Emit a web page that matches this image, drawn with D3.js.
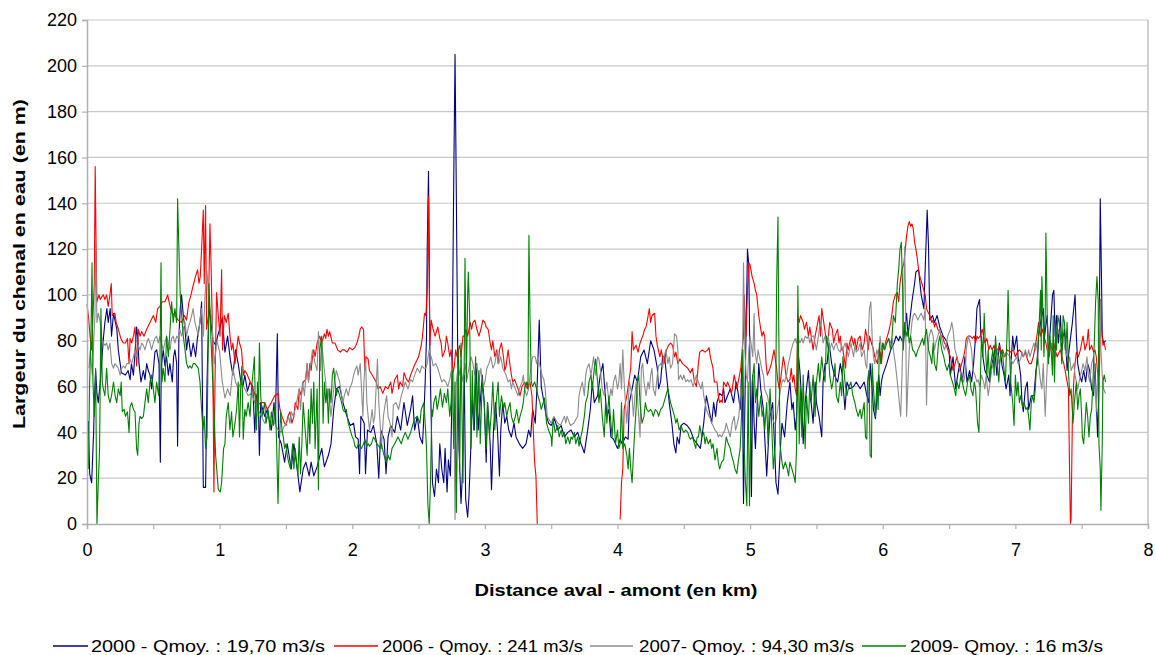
<!DOCTYPE html>
<html><head><meta charset="utf-8">
<script src="https://cdn.jsdelivr.net/npm/d3@7"></script>
<style>html,body{margin:0;padding:0;background:#fff;}svg{display:block;}text{font-family:"Liberation Sans",Arial,sans-serif;fill:#000;}</style>
</head><body><svg id="c" width="1156" height="655"></svg>
<script>
const yTicks=[0,20,40,60,80,100,120,140,160,180,200,220];
const xTicks=[0,0.5,1,1.5,2,2.5,3,3.5,4,4.5,5,5.5,6,6.5,7,7.5,8];
const xLabels=["0","","1","","2","","3","","4","","5","","6","","7","","8"];
const seriesNames=["2000 - Qmoy. : 19,70 m3/s","2006 - Qmoy. : 241 m3/s","2007- Qmoy. : 94,30 m3/s","2009- Qmoy. : 16 m3/s"];
const seriesColors=["#000080","#ff0000","#8c8c8c","#008000"];
const xTitle="Distance aval - amont (en km)";
const yTitle="Largeur du chenal en eau (en m)";

const s2000=[[0.01,45],[0.02,22],[0.035,18],[0.05,40],[0.055,53],[0.065,67],[0.075,57],[0.085,53],[0.1,62],[0.11,70],[0.125,82],[0.135,88],[0.15,94],[0.16,88],[0.175,94],[0.185,82],[0.2,92],[0.225,85],[0.236,76],[0.25,70],[0.26,66],[0.29,65],[0.31,67],[0.325,63],[0.335,70],[0.35,65],[0.36,73],[0.374,86],[0.382,82],[0.392,70],[0.407,62],[0.425,67],[0.437,63],[0.45,70],[0.462,67],[0.475,65],[0.487,59],[0.5,67],[0.512,75],[0.525,76],[0.543,70],[0.553,27],[0.56,69],[0.575,76],[0.588,69],[0.6,73],[0.613,65],[0.625,70],[0.643,62],[0.653,73],[0.663,76],[0.676,70],[0.683,34],[0.693,82],[0.703,94],[0.713,100],[0.726,91],[0.739,85],[0.751,76],[0.764,82],[0.784,73],[0.801,79],[0.819,73],[0.834,82],[0.852,88],[0.864,97],[0.877,16],[0.894,16],[0.905,62],[0.92,95],[0.935,88],[0.95,80],[0.97,78],[0.985,82],[1.0,85],[1.02,90],[1.04,75],[1.06,82],[1.08,72],[1.1,65],[1.12,76],[1.14,70],[1.16,62],[1.175,60],[1.19,65],[1.21,58],[1.23,62],[1.25,60],[1.265,40],[1.275,55],[1.29,58],[1.3,30],[1.31,53],[1.34,47],[1.36,50],[1.39,41],[1.41,53],[1.42,44],[1.435,83],[1.445,38],[1.465,35],[1.49,27],[1.51,35],[1.54,24],[1.56,35],[1.585,24],[1.605,14],[1.63,24],[1.65,27],[1.675,21],[1.69,27],[1.71,21],[1.735,25],[1.77,33],[1.79,25],[1.82,30],[1.84,35],[1.86,50],[1.88,59],[1.905,60],[1.93,53],[1.96,47],[1.985,43],[2.01,44],[2.025,38],[2.045,37],[2.055,22],[2.065,47],[2.09,44],[2.1,22],[2.115,41],[2.14,40],[2.16,43],[2.185,35],[2.2,20],[2.215,41],[2.24,37],[2.255,22],[2.27,38],[2.29,43],[2.32,40],[2.34,47],[2.365,41],[2.39,53],[2.415,43],[2.44,50],[2.455,56],[2.47,41],[2.49,47],[2.51,38],[2.53,35],[2.54,47],[2.55,62],[2.56,82],[2.565,120],[2.575,154],[2.58,120],[2.585,76],[2.595,47],[2.605,18],[2.62,12],[2.635,24],[2.65,18],[2.66,35],[2.675,24],[2.69,18],[2.7,33],[2.715,14],[2.725,28],[2.74,21],[2.75,50],[2.765,149],[2.775,205],[2.785,142],[2.795,76],[2.805,33],[2.82,9],[2.83,21],[2.845,65],[2.855,11],[2.87,3],[2.88,12],[2.895,35],[2.905,54],[2.92,41],[2.935,70],[2.95,41],[2.965,53],[2.98,65],[2.995,53],[3.01,27],[3.02,53],[3.04,35],[3.05,15],[3.065,41],[3.08,53],[3.095,41],[3.11,21],[3.12,41],[3.135,53],[3.15,44],[3.165,47],[3.18,41],[3.2,38],[3.22,44],[3.235,38],[3.26,35],[3.285,33],[3.31,35],[3.33,41],[3.345,38],[3.36,50],[3.38,44],[3.395,62],[3.41,89],[3.425,60],[3.44,55],[3.46,48],[3.48,44],[3.5,43],[3.525,46],[3.55,41],[3.575,43],[3.6,38],[3.625,40],[3.65,41],[3.675,38],[3.7,40],[3.725,35],[3.75,31],[3.76,35],[3.775,41],[3.795,50],[3.81,62],[3.825,53],[3.85,56],[3.87,65],[3.89,70],[3.9,62],[3.92,47],[3.935,50],[3.95,38],[3.97,37],[4.0,33],[4.02,37],[4.035,35],[4.06,38],[4.08,37],[4.09,53],[4.11,59],[4.13,65],[4.15,62],[4.175,73],[4.2,76],[4.225,70],[4.25,80],[4.275,76],[4.3,68],[4.31,59],[4.325,62],[4.34,73],[4.355,73],[4.375,62],[4.39,53],[4.41,44],[4.425,35],[4.44,31],[4.45,38],[4.465,35],[4.48,43],[4.5,44],[4.525,43],[4.55,41],[4.575,37],[4.6,35],[4.625,33],[4.65,44],[4.67,56],[4.69,50],[4.71,44],[4.725,53],[4.74,47],[4.75,53],[4.77,57],[4.79,56],[4.8,59],[4.81,53],[4.83,56],[4.85,59],[4.875,53],[4.895,62],[4.91,57],[4.925,50],[4.94,73],[4.95,9],[4.965,70],[4.98,120],[4.99,113],[5.0,62],[5.01,12],[5.02,65],[5.03,44],[5.04,33],[5.05,47],[5.065,70],[5.08,59],[5.1,50],[5.11,38],[5.125,21],[5.14,38],[5.15,47],[5.17,53],[5.185,33],[5.195,18],[5.21,13],[5.23,35],[5.24,44],[5.26,38],[5.28,53],[5.3,62],[5.315,50],[5.325,53],[5.34,41],[5.35,47],[5.365,73],[5.375,67],[5.39,53],[5.4,35],[5.415,53],[5.425,59],[5.44,67],[5.45,56],[5.46,53],[5.475,44],[5.49,62],[5.5,53],[5.52,47],[5.54,38],[5.55,62],[5.565,70],[5.58,70],[5.595,79],[5.615,70],[5.635,65],[5.66,62],[5.68,70],[5.695,65],[5.715,50],[5.73,62],[5.75,59],[5.78,60],[5.8,62],[5.83,59],[5.86,62],[5.88,56],[5.895,53],[5.905,70],[5.92,59],[5.93,50],[5.945,46],[5.96,59],[5.97,65],[5.98,56],[5.99,62],[6.0,65],[6.03,70],[6.06,76],[6.085,79],[6.1,82],[6.12,80],[6.13,82],[6.155,79],[6.18,92],[6.19,82],[6.22,97],[6.24,105],[6.25,110],[6.27,111],[6.29,100],[6.31,94],[6.325,120],[6.335,137],[6.345,121],[6.355,89],[6.375,91],[6.39,88],[6.41,91],[6.43,86],[6.455,82],[6.48,80],[6.5,76],[6.51,65],[6.53,73],[6.55,59],[6.565,65],[6.58,70],[6.6,62],[6.62,73],[6.635,62],[6.655,67],[6.67,62],[6.685,70],[6.7,82],[6.71,94],[6.73,98],[6.74,82],[6.755,73],[6.77,67],[6.785,65],[6.805,62],[6.825,70],[6.845,76],[6.86,65],[6.88,79],[6.9,69],[6.915,65],[6.93,59],[6.95,65],[6.96,56],[6.97,73],[6.98,82],[6.99,76],[7.01,82],[7.02,73],[7.04,65],[7.05,53],[7.06,49],[7.075,59],[7.09,62],[7.1,50],[7.12,56],[7.14,56],[7.155,67],[7.165,70],[7.175,82],[7.19,88],[7.2,91],[7.21,94],[7.22,82],[7.24,91],[7.25,76],[7.26,82],[7.28,100],[7.29,102],[7.3,82],[7.31,91],[7.325,79],[7.34,91],[7.35,76],[7.37,85],[7.385,73],[7.39,67],[7.405,76],[7.43,88],[7.45,100],[7.46,82],[7.47,70],[7.485,65],[7.5,62],[7.515,67],[7.53,62],[7.545,70],[7.56,67],[7.575,59],[7.59,56],[7.6,70],[7.62,38],[7.63,59],[7.64,142],[7.65,105],[7.655,82],[7.665,79],[7.68,80]];

const s2006=[[0.0,96],[0.012,90],[0.023,82],[0.035,76],[0.045,91],[0.055,105],[0.062,156],[0.068,124],[0.075,97],[0.09,100],[0.1,98],[0.11,99],[0.123,100],[0.135,98],[0.148,100],[0.16,95],[0.173,100],[0.183,105],[0.19,91],[0.21,92],[0.22,88],[0.236,85],[0.255,81],[0.274,79],[0.29,79],[0.305,81],[0.317,70],[0.325,81],[0.337,79],[0.35,82],[0.362,86],[0.374,69],[0.387,85],[0.4,82],[0.412,84],[0.43,82],[0.45,85],[0.475,88],[0.5,91],[0.518,88],[0.533,94],[0.55,95],[0.568,97],[0.588,97],[0.608,100],[0.626,95],[0.643,92],[0.663,91],[0.688,89],[0.713,88],[0.734,91],[0.75,89],[0.769,97],[0.784,100],[0.8,104],[0.818,108],[0.834,111],[0.844,105],[0.854,108],[0.864,120],[0.877,137],[0.884,105],[0.894,139],[0.902,85],[0.915,91],[0.927,131],[0.935,114],[0.947,82],[0.957,14],[0.965,62],[0.977,101],[0.99,91],[1.003,82],[1.015,111],[1.022,76],[1.035,91],[1.05,88],[1.065,92],[1.078,82],[1.09,76],[1.1,79],[1.116,70],[1.128,76],[1.14,82],[1.15,79],[1.165,76],[1.18,65],[1.19,67],[1.21,65],[1.23,62],[1.25,59],[1.27,56],[1.29,52],[1.31,53],[1.34,53],[1.36,50],[1.39,53],[1.415,56],[1.44,57],[1.455,50],[1.47,47],[1.49,44],[1.5,43],[1.515,47],[1.53,49],[1.545,44],[1.56,47],[1.57,53],[1.59,50],[1.6,59],[1.615,56],[1.63,62],[1.65,63],[1.66,70],[1.67,62],[1.68,70],[1.69,67],[1.7,73],[1.71,76],[1.72,73],[1.735,79],[1.755,82],[1.77,79],[1.79,83],[1.8,81],[1.81,85],[1.82,82],[1.83,84],[1.85,79],[1.87,79],[1.89,76],[1.91,75],[1.925,76],[1.94,76],[1.96,75],[1.98,77],[2.0,76],[2.02,77],[2.035,79],[2.05,82],[2.06,85],[2.07,86],[2.085,85],[2.095,67],[2.105,73],[2.12,72],[2.13,67],[2.15,65],[2.18,62],[2.195,59],[2.21,60],[2.23,57],[2.25,60],[2.27,59],[2.29,62],[2.3,57],[2.32,63],[2.34,65],[2.35,59],[2.36,62],[2.38,60],[2.39,66],[2.41,63],[2.425,62],[2.44,65],[2.46,68],[2.475,70],[2.5,73],[2.52,78],[2.53,82],[2.545,92],[2.555,91],[2.565,102],[2.57,118],[2.575,143],[2.585,78],[2.595,89],[2.61,85],[2.625,82],[2.645,86],[2.66,81],[2.67,79],[2.68,73],[2.7,76],[2.71,82],[2.72,79],[2.735,73],[2.745,76],[2.76,66],[2.77,69],[2.78,76],[2.79,73],[2.8,76],[2.81,78],[2.82,73],[2.835,82],[2.845,82],[2.855,85],[2.87,82],[2.88,85],[2.89,88],[2.9,85],[2.91,88],[2.925,89],[2.94,85],[2.955,82],[2.97,85],[2.985,89],[3.0,88],[3.01,86],[3.025,85],[3.04,79],[3.05,76],[3.06,80],[3.075,73],[3.09,76],[3.1,70],[3.11,76],[3.125,79],[3.14,73],[3.15,67],[3.16,69],[3.175,76],[3.19,69],[3.2,65],[3.21,62],[3.225,63],[3.25,59],[3.265,56],[3.28,60],[3.3,62],[3.32,59],[3.34,62],[3.355,56],[3.375,27],[3.385,21],[3.395,0],[3.7,null],[4.02,2],[4.03,18],[4.04,24],[4.05,50],[4.07,56],[4.085,62],[4.1,68],[4.11,84],[4.12,76],[4.14,78],[4.155,75],[4.17,79],[4.19,82],[4.205,85],[4.215,86],[4.225,89],[4.24,94],[4.25,88],[4.26,91],[4.28,92],[4.29,82],[4.3,78],[4.32,73],[4.33,76],[4.35,70],[4.37,76],[4.385,78],[4.4,79],[4.415,78],[4.43,73],[4.44,75],[4.455,70],[4.47,72],[4.49,70],[4.51,69],[4.53,68],[4.55,66],[4.565,68],[4.58,62],[4.595,60],[4.61,70],[4.62,75],[4.64,76],[4.66,75],[4.68,76],[4.69,77],[4.7,73],[4.72,68],[4.73,62],[4.75,62],[4.76,56],[4.77,53],[4.78,54],[4.79,53],[4.8,62],[4.82,60],[4.83,62],[4.85,59],[4.86,57],[4.88,65],[4.89,62],[4.9,59],[4.91,62],[4.93,68],[4.94,76],[4.95,82],[4.955,100],[4.96,94],[4.97,82],[4.98,102],[4.99,114],[5.0,113],[5.015,108],[5.03,105],[5.04,102],[5.05,100],[5.065,91],[5.08,85],[5.09,82],[5.1,84],[5.11,82],[5.12,70],[5.13,65],[5.15,68],[5.16,70],[5.17,73],[5.18,76],[5.2,68],[5.21,62],[5.22,59],[5.23,63],[5.25,73],[5.26,70],[5.27,65],[5.285,62],[5.3,63],[5.31,68],[5.32,62],[5.33,65],[5.34,59],[5.35,56],[5.36,91],[5.37,88],[5.38,91],[5.4,88],[5.41,85],[5.425,88],[5.44,82],[5.45,86],[5.46,82],[5.475,76],[5.49,82],[5.5,85],[5.52,91],[5.53,82],[5.54,94],[5.555,88],[5.57,82],[5.58,79],[5.59,82],[5.6,88],[5.62,85],[5.63,79],[5.64,82],[5.66,85],[5.67,79],[5.68,82],[5.69,76],[5.7,76],[5.72,68],[5.73,79],[5.74,76],[5.75,79],[5.765,82],[5.78,78],[5.79,81],[5.8,76],[5.815,81],[5.83,82],[5.845,76],[5.86,79],[5.87,85],[5.88,82],[5.89,76],[5.9,82],[5.915,79],[5.93,76],[5.94,73],[5.96,70],[5.97,76],[5.98,75],[5.99,70],[6.0,76],[6.015,78],[6.03,81],[6.045,84],[6.06,88],[6.07,92],[6.08,97],[6.095,100],[6.11,101],[6.12,97],[6.13,105],[6.145,111],[6.16,114],[6.17,120],[6.18,126],[6.19,130],[6.2,132],[6.21,130],[6.22,131],[6.23,129],[6.24,123],[6.25,120],[6.26,116],[6.27,111],[6.28,108],[6.295,105],[6.31,102],[6.32,100],[6.33,94],[6.345,92],[6.355,91],[6.37,88],[6.38,89],[6.39,86],[6.4,88],[6.415,85],[6.43,84],[6.44,82],[6.45,82],[6.465,79],[6.48,78],[6.49,76],[6.51,73],[6.52,70],[6.53,67],[6.545,70],[6.56,73],[6.57,70],[6.58,67],[6.595,70],[6.61,73],[6.62,76],[6.63,81],[6.645,82],[6.66,82],[6.675,81],[6.69,82],[6.7,79],[6.71,82],[6.72,81],[6.735,82],[6.75,85],[6.76,82],[6.77,79],[6.785,81],[6.8,76],[6.81,78],[6.825,76],[6.84,78],[6.85,75],[6.865,76],[6.88,78],[6.89,75],[6.905,76],[6.92,73],[6.94,76],[6.96,75],[6.985,76],[7.0,73],[7.015,75],[7.03,76],[7.045,75],[7.06,73],[7.075,75],[7.09,72],[7.105,70],[7.12,70],[7.135,73],[7.145,76],[7.16,81],[7.175,88],[7.19,82],[7.205,85],[7.215,82],[7.23,79],[7.24,76],[7.255,73],[7.265,78],[7.28,76],[7.29,79],[7.3,76],[7.315,73],[7.33,75],[7.34,76],[7.355,72],[7.365,70],[7.375,67],[7.39,62],[7.4,59],[7.41,18],[7.415,0],[7.42,2],[7.43,47],[7.44,62],[7.45,70],[7.46,75],[7.475,73],[7.49,76],[7.5,79],[7.51,82],[7.525,76],[7.54,79],[7.55,85],[7.56,76],[7.575,78],[7.59,75],[7.6,76],[7.61,73],[7.625,62],[7.635,70],[7.645,98],[7.65,85],[7.66,78],[7.67,79],[7.68,76]];

const s2007=[[0.015,68],[0.025,76],[0.04,65],[0.05,79],[0.06,91],[0.065,124],[0.075,88],[0.085,92],[0.1,88],[0.11,82],[0.123,79],[0.136,78],[0.148,79],[0.16,76],[0.173,79],[0.186,70],[0.2,68],[0.21,70],[0.224,69],[0.236,68],[0.25,65],[0.262,68],[0.274,69],[0.287,68],[0.3,70],[0.312,70],[0.324,72],[0.337,70],[0.35,73],[0.362,76],[0.374,73],[0.387,78],[0.4,76],[0.412,79],[0.425,78],[0.437,76],[0.45,79],[0.462,81],[0.475,79],[0.487,76],[0.5,79],[0.512,81],[0.525,82],[0.537,79],[0.55,82],[0.562,79],[0.575,76],[0.587,79],[0.6,82],[0.613,79],[0.626,76],[0.638,81],[0.65,82],[0.663,79],[0.676,82],[0.688,81],[0.7,85],[0.713,82],[0.726,85],[0.739,88],[0.751,82],[0.764,86],[0.776,88],[0.789,91],[0.8,94],[0.814,88],[0.827,85],[0.839,82],[0.85,88],[0.864,94],[0.877,82],[0.89,100],[0.905,110],[0.92,96],[0.94,90],[0.96,70],[0.98,80],[1.0,75],[1.02,62],[1.04,55],[1.06,59],[1.08,56],[1.1,68],[1.12,62],[1.14,59],[1.16,62],[1.19,59],[1.215,56],[1.24,57],[1.265,53],[1.29,50],[1.315,47],[1.34,44],[1.365,47],[1.39,44],[1.415,44],[1.44,41],[1.465,40],[1.49,43],[1.505,44],[1.52,47],[1.53,44],[1.54,49],[1.555,47],[1.57,50],[1.58,53],[1.6,59],[1.61,50],[1.625,62],[1.64,56],[1.65,65],[1.66,70],[1.67,62],[1.68,67],[1.7,76],[1.71,73],[1.72,70],[1.735,67],[1.745,84],[1.76,67],[1.77,79],[1.78,73],[1.79,67],[1.8,62],[1.81,53],[1.82,59],[1.83,53],[1.84,47],[1.855,56],[1.865,62],[1.88,67],[1.89,65],[1.905,62],[1.92,56],[1.93,53],[1.94,56],[1.955,59],[1.97,56],[1.98,59],[2.0,62],[2.01,65],[2.02,67],[2.035,69],[2.045,65],[2.06,70],[2.07,59],[2.08,47],[2.088,62],[2.1,73],[2.11,53],[2.12,47],[2.13,41],[2.15,50],[2.16,44],[2.17,47],[2.19,72],[2.2,53],[2.21,44],[2.22,33],[2.235,47],[2.25,53],[2.26,56],[2.27,47],[2.285,44],[2.3,38],[2.31,52],[2.33,53],[2.35,50],[2.37,56],[2.385,59],[2.4,62],[2.42,59],[2.44,63],[2.455,62],[2.47,65],[2.49,68],[2.51,66],[2.525,69],[2.54,68],[2.555,68],[2.565,70],[2.58,76],[2.6,72],[2.61,69],[2.63,70],[2.645,68],[2.66,65],[2.675,62],[2.69,63],[2.705,62],[2.72,60],[2.735,63],[2.75,68],[2.765,65],[2.775,2],[2.785,62],[2.8,70],[2.81,65],[2.82,68],[2.835,62],[2.85,70],[2.865,63],[2.88,68],[2.895,73],[2.91,70],[2.925,65],[2.94,70],[2.955,62],[2.97,68],[2.985,59],[3.0,62],[3.015,68],[3.03,70],[3.045,73],[3.06,68],[3.075,70],[3.09,75],[3.105,70],[3.12,73],[3.135,68],[3.16,65],[3.175,62],[3.19,63],[3.2,59],[3.21,62],[3.23,59],[3.25,56],[3.26,59],[3.28,62],[3.29,65],[3.3,59],[3.315,56],[3.33,59],[3.35,70],[3.36,73],[3.38,73],[3.39,70],[3.4,73],[3.415,69],[3.43,65],[3.445,63],[3.455,59],[3.47,47],[3.48,46],[3.5,44],[3.52,47],[3.55,44],[3.57,43],[3.6,47],[3.61,44],[3.62,47],[3.645,43],[3.67,44],[3.7,47],[3.71,56],[3.72,59],[3.735,62],[3.75,56],[3.76,65],[3.77,68],[3.785,70],[3.8,65],[3.81,69],[3.82,73],[3.835,65],[3.85,73],[3.86,72],[3.87,68],[3.885,59],[3.9,56],[3.91,59],[3.92,62],[3.935,53],[3.95,59],[3.96,56],[3.97,62],[3.985,65],[4.0,59],[4.01,62],[4.02,70],[4.03,59],[4.04,76],[4.05,62],[4.06,53],[4.07,44],[4.08,53],[4.09,62],[4.11,56],[4.12,47],[4.14,62],[4.15,56],[4.16,47],[4.17,38],[4.18,68],[4.19,70],[4.2,62],[4.215,56],[4.23,62],[4.24,59],[4.25,65],[4.26,68],[4.27,59],[4.285,56],[4.3,65],[4.31,69],[4.325,70],[4.34,68],[4.35,73],[4.365,76],[4.38,70],[4.39,73],[4.4,68],[4.415,70],[4.43,83],[4.445,82],[4.455,76],[4.46,63],[4.475,65],[4.49,63],[4.5,65],[4.515,62],[4.53,63],[4.54,62],[4.555,63],[4.57,60],[4.58,62],[4.595,65],[4.61,62],[4.63,59],[4.64,62],[4.65,56],[4.66,53],[4.67,50],[4.69,47],[4.7,46],[4.71,44],[4.72,43],[4.735,41],[4.75,40],[4.76,38],[4.77,39],[4.785,38],[4.8,40],[4.81,41],[4.82,44],[4.835,41],[4.85,38],[4.865,44],[4.88,47],[4.89,41],[4.9,43],[4.915,47],[4.93,59],[4.94,56],[4.95,114],[4.96,76],[4.97,65],[4.98,62],[4.99,76],[5.0,82],[5.02,73],[5.03,92],[5.035,76],[5.05,70],[5.06,76],[5.07,73],[5.08,70],[5.09,67],[5.1,65],[5.11,59],[5.13,56],[5.15,50],[5.165,47],[5.18,44],[5.19,44],[5.2,47],[5.215,53],[5.23,59],[5.24,62],[5.25,63],[5.26,62],[5.275,65],[5.285,69],[5.3,73],[5.31,76],[5.325,79],[5.34,81],[5.35,79],[5.36,82],[5.375,79],[5.39,81],[5.4,79],[5.415,82],[5.43,81],[5.44,82],[5.45,79],[5.465,82],[5.48,82],[5.49,79],[5.5,76],[5.515,82],[5.53,88],[5.54,85],[5.55,79],[5.565,82],[5.58,79],[5.59,82],[5.6,76],[5.615,79],[5.63,76],[5.64,78],[5.65,79],[5.665,76],[5.68,75],[5.69,78],[5.7,76],[5.715,79],[5.73,76],[5.74,73],[5.75,76],[5.76,79],[5.78,73],[5.79,78],[5.8,75],[5.815,76],[5.83,79],[5.84,73],[5.86,76],[5.87,70],[5.88,68],[5.89,82],[5.9,94],[5.91,97],[5.92,82],[5.93,73],[5.94,70],[5.955,76],[5.97,73],[5.98,82],[5.99,76],[6.0,79],[6.015,78],[6.03,79],[6.045,81],[6.06,79],[6.07,81],[6.08,76],[6.095,70],[6.11,62],[6.12,56],[6.13,50],[6.135,47],[6.145,65],[6.15,76],[6.16,105],[6.165,121],[6.17,105],[6.18,47],[6.19,62],[6.2,76],[6.21,82],[6.22,88],[6.23,91],[6.24,92],[6.25,91],[6.265,89],[6.28,91],[6.29,92],[6.31,89],[6.315,92],[6.32,94],[6.33,52],[6.34,76],[6.35,82],[6.365,85],[6.38,82],[6.39,76],[6.4,79],[6.415,82],[6.43,85],[6.44,82],[6.45,79],[6.465,76],[6.48,79],[6.49,82],[6.51,85],[6.52,88],[6.53,85],[6.545,76],[6.56,73],[6.57,70],[6.58,67],[6.59,65],[6.61,62],[6.62,65],[6.63,76],[6.645,82],[6.66,79],[6.67,76],[6.68,67],[6.695,65],[6.71,62],[6.72,63],[6.73,60],[6.745,65],[6.76,62],[6.77,59],[6.78,65],[6.795,56],[6.81,62],[6.82,67],[6.83,70],[6.845,73],[6.86,76],[6.87,73],[6.88,70],[6.895,75],[6.91,73],[6.93,75],[6.96,73],[6.98,70],[7.01,73],[7.02,70],[7.04,72],[7.05,75],[7.06,73],[7.075,76],[7.09,73],[7.1,76],[7.11,73],[7.125,76],[7.14,79],[7.15,76],[7.16,79],[7.175,70],[7.19,62],[7.2,59],[7.21,70],[7.225,47],[7.235,62],[7.245,76],[7.25,82],[7.26,76],[7.275,79],[7.29,76],[7.3,73],[7.31,82],[7.32,85],[7.34,82],[7.35,79],[7.36,82],[7.375,76],[7.39,73],[7.4,70],[7.41,73],[7.42,67],[7.44,70],[7.45,65],[7.46,62],[7.47,59],[7.49,65],[7.5,67],[7.51,70],[7.525,67],[7.54,73],[7.55,65],[7.56,62],[7.575,70],[7.59,73],[7.6,65],[7.61,49],[7.625,67],[7.64,98],[7.645,76],[7.655,65],[7.665,59],[7.68,57]];

const s2009=[[0.01,24],[0.02,62],[0.03,82],[0.038,114],[0.045,62],[0.055,47],[0.065,68],[0.075,0],[0.085,18],[0.095,33],[0.105,94],[0.115,62],[0.123,59],[0.135,56],[0.148,68],[0.16,56],[0.173,53],[0.185,56],[0.2,62],[0.212,56],[0.224,53],[0.236,59],[0.25,56],[0.258,62],[0.266,49],[0.28,50],[0.29,47],[0.305,49],[0.317,40],[0.324,51],[0.337,53],[0.35,50],[0.362,49],[0.374,33],[0.382,30],[0.392,44],[0.4,47],[0.412,46],[0.425,47],[0.437,53],[0.45,59],[0.462,53],[0.475,62],[0.487,65],[0.5,59],[0.512,53],[0.525,62],[0.54,56],[0.55,70],[0.558,114],[0.565,62],[0.575,68],[0.588,62],[0.6,82],[0.613,73],[0.626,85],[0.638,97],[0.65,88],[0.663,94],[0.676,88],[0.683,142],[0.693,120],[0.703,100],[0.714,91],[0.726,82],[0.739,76],[0.751,70],[0.764,68],[0.776,69],[0.789,68],[0.801,70],[0.814,70],[0.827,69],[0.839,68],[0.852,62],[0.864,50],[0.874,41],[0.884,47],[0.894,33],[0.905,38],[0.92,105],[0.935,80],[0.95,60],[0.97,30],[0.99,15],[1.005,14],[1.015,18],[1.03,33],[1.04,35],[1.05,47],[1.065,53],[1.078,41],[1.09,49],[1.1,38],[1.116,44],[1.128,50],[1.14,62],[1.15,38],[1.16,62],[1.168,69],[1.178,37],[1.19,50],[1.2,47],[1.215,53],[1.23,47],[1.24,59],[1.255,68],[1.262,73],[1.27,50],[1.278,41],[1.285,62],[1.292,47],[1.3,79],[1.31,56],[1.32,47],[1.34,53],[1.35,44],[1.365,50],[1.38,41],[1.39,49],[1.405,43],[1.42,53],[1.43,35],[1.44,9],[1.45,35],[1.46,49],[1.47,41],[1.48,38],[1.49,33],[1.5,35],[1.51,30],[1.52,27],[1.535,24],[1.55,35],[1.56,24],[1.57,33],[1.58,27],[1.59,21],[1.6,38],[1.61,22],[1.62,35],[1.63,53],[1.645,41],[1.66,30],[1.67,50],[1.68,35],[1.69,59],[1.7,44],[1.71,62],[1.72,33],[1.735,59],[1.745,15],[1.755,76],[1.77,82],[1.78,44],[1.79,62],[1.8,53],[1.81,59],[1.82,44],[1.83,59],[1.84,53],[1.85,65],[1.86,68],[1.87,62],[1.88,56],[1.89,59],[1.905,56],[1.92,53],[1.93,50],[1.94,49],[1.955,50],[1.97,44],[1.985,41],[2.0,38],[2.01,37],[2.02,34],[2.035,33],[2.045,35],[2.06,34],[2.07,33],[2.085,35],[2.095,37],[2.11,34],[2.12,35],[2.13,34],[2.145,35],[2.16,38],[2.17,37],[2.185,35],[2.2,34],[2.21,33],[2.22,35],[2.235,31],[2.25,28],[2.26,27],[2.27,30],[2.285,28],[2.3,33],[2.32,35],[2.345,38],[2.37,35],[2.385,38],[2.4,40],[2.42,37],[2.44,40],[2.455,43],[2.47,46],[2.49,47],[2.51,44],[2.52,50],[2.54,53],[2.55,44],[2.56,33],[2.57,9],[2.58,0],[2.59,18],[2.6,50],[2.605,47],[2.615,53],[2.63,56],[2.64,50],[2.65,53],[2.665,59],[2.68,51],[2.695,57],[2.71,53],[2.72,59],[2.735,47],[2.745,53],[2.755,67],[2.765,33],[2.775,62],[2.785,5],[2.8,76],[2.81,24],[2.82,79],[2.835,18],[2.845,76],[2.85,116],[2.86,62],[2.87,100],[2.875,110],[2.885,91],[2.895,33],[2.905,67],[2.915,41],[2.93,73],[2.94,38],[2.955,67],[2.965,35],[2.98,62],[2.995,53],[3.01,33],[3.02,53],[3.035,38],[3.05,50],[3.06,62],[3.075,41],[3.085,53],[3.1,62],[3.11,47],[3.125,56],[3.14,50],[3.15,53],[3.165,47],[3.175,50],[3.19,53],[3.2,47],[3.215,44],[3.23,47],[3.24,50],[3.255,44],[3.265,47],[3.28,50],[3.29,53],[3.3,59],[3.315,62],[3.325,59],[3.332,126],[3.34,91],[3.35,62],[3.36,60],[3.375,62],[3.39,59],[3.4,56],[3.415,53],[3.425,50],[3.44,53],[3.45,55],[3.465,44],[3.48,41],[3.5,38],[3.505,34],[3.515,46],[3.53,40],[3.55,43],[3.56,38],[3.575,41],[3.585,38],[3.6,40],[3.61,35],[3.625,38],[3.64,35],[3.65,38],[3.66,37],[3.675,40],[3.685,35],[3.7,38],[3.71,34],[3.72,37],[3.735,41],[3.75,47],[3.76,53],[3.775,56],[3.785,62],[3.8,65],[3.81,59],[3.825,68],[3.835,72],[3.85,62],[3.86,53],[3.87,59],[3.885,47],[3.9,38],[3.91,53],[3.92,44],[3.935,56],[3.95,44],[3.96,38],[3.97,50],[3.985,35],[4.0,41],[4.01,33],[4.02,35],[4.03,53],[4.04,33],[4.055,35],[4.07,30],[4.08,24],[4.09,33],[4.1,24],[4.11,18],[4.12,30],[4.13,41],[4.14,50],[4.15,62],[4.16,65],[4.17,53],[4.185,44],[4.2,47],[4.21,53],[4.22,50],[4.235,49],[4.25,50],[4.26,49],[4.27,47],[4.285,50],[4.3,49],[4.31,47],[4.325,50],[4.34,51],[4.35,53],[4.365,56],[4.38,59],[4.39,56],[4.4,53],[4.415,50],[4.43,47],[4.44,44],[4.45,46],[4.465,41],[4.48,43],[4.49,41],[4.5,40],[4.515,41],[4.53,40],[4.54,38],[4.55,37],[4.565,38],[4.58,35],[4.59,33],[4.6,38],[4.61,38],[4.62,43],[4.635,38],[4.65,40],[4.66,35],[4.67,38],[4.685,35],[4.7,37],[4.71,33],[4.72,35],[4.735,28],[4.75,33],[4.76,27],[4.77,24],[4.785,27],[4.8,28],[4.81,33],[4.82,38],[4.835,35],[4.85,33],[4.86,30],[4.875,27],[4.885,24],[4.9,22],[4.91,27],[4.925,33],[4.935,47],[4.945,76],[4.955,33],[4.965,18],[4.975,8],[4.985,62],[4.995,8],[5.005,40],[5.015,62],[5.03,70],[5.04,53],[5.05,59],[5.065,47],[5.08,56],[5.09,47],[5.1,50],[5.11,41],[5.125,53],[5.135,35],[5.15,59],[5.16,47],[5.175,24],[5.19,35],[5.2,105],[5.21,134],[5.215,91],[5.225,35],[5.24,27],[5.25,24],[5.265,27],[5.28,24],[5.29,21],[5.3,27],[5.315,24],[5.33,21],[5.34,18],[5.35,33],[5.36,104],[5.365,76],[5.37,35],[5.38,59],[5.39,38],[5.4,65],[5.415,33],[5.425,56],[5.44,44],[5.45,62],[5.46,53],[5.475,65],[5.49,47],[5.5,62],[5.515,70],[5.525,62],[5.54,73],[5.55,67],[5.565,62],[5.575,82],[5.59,76],[5.6,65],[5.615,59],[5.625,62],[5.64,70],[5.65,56],[5.665,53],[5.68,62],[5.69,56],[5.7,73],[5.715,62],[5.73,56],[5.74,59],[5.76,62],[5.775,56],[5.79,53],[5.8,50],[5.815,47],[5.83,50],[5.84,46],[5.86,53],[5.87,38],[5.88,37],[5.885,62],[5.895,67],[5.905,30],[5.915,29],[5.92,70],[5.93,59],[5.945,47],[5.955,62],[5.965,50],[5.975,79],[5.985,70],[5.995,76],[6.0,79],[6.015,76],[6.03,79],[6.045,81],[6.06,76],[6.07,82],[6.08,91],[6.095,88],[6.11,105],[6.12,111],[6.13,120],[6.14,123],[6.15,102],[6.155,76],[6.165,88],[6.175,82],[6.19,85],[6.2,79],[6.21,82],[6.225,76],[6.24,75],[6.25,73],[6.265,76],[6.28,78],[6.3,81],[6.31,78],[6.32,82],[6.33,85],[6.345,76],[6.36,73],[6.37,70],[6.38,79],[6.39,70],[6.405,67],[6.42,79],[6.43,82],[6.445,76],[6.46,73],[6.47,70],[6.485,67],[6.5,70],[6.51,65],[6.525,62],[6.54,59],[6.55,56],[6.56,62],[6.575,59],[6.59,65],[6.6,62],[6.61,59],[6.625,56],[6.64,62],[6.655,65],[6.665,59],[6.68,56],[6.69,62],[6.7,59],[6.715,44],[6.725,40],[6.735,62],[6.745,82],[6.755,73],[6.765,92],[6.775,76],[6.785,65],[6.795,76],[6.805,62],[6.815,70],[6.83,76],[6.84,65],[6.85,82],[6.86,73],[6.875,62],[6.885,73],[6.9,76],[6.91,70],[6.925,62],[6.94,88],[6.945,102],[6.955,76],[6.965,62],[6.98,53],[6.99,43],[7.0,65],[7.01,56],[7.02,62],[7.03,53],[7.04,56],[7.055,51],[7.065,53],[7.08,50],[7.09,51],[7.1,47],[7.11,41],[7.12,53],[7.13,56],[7.14,53],[7.15,59],[7.16,70],[7.17,76],[7.18,88],[7.19,102],[7.195,76],[7.2,108],[7.21,88],[7.215,73],[7.225,91],[7.23,127],[7.24,91],[7.25,70],[7.26,82],[7.27,76],[7.28,65],[7.285,91],[7.295,62],[7.305,88],[7.31,76],[7.32,91],[7.33,88],[7.34,82],[7.35,70],[7.36,91],[7.37,88],[7.38,76],[7.39,88],[7.4,67],[7.41,56],[7.42,59],[7.435,44],[7.445,53],[7.46,62],[7.47,50],[7.48,56],[7.49,59],[7.5,47],[7.505,38],[7.515,35],[7.525,44],[7.535,53],[7.545,47],[7.555,38],[7.565,47],[7.575,50],[7.585,62],[7.595,79],[7.605,97],[7.615,108],[7.625,97],[7.63,35],[7.64,24],[7.645,6],[7.655,35],[7.66,62],[7.67,65],[7.68,62]];

const seriesData=[s2000,s2006,s2007,s2009];

const svg=d3.select("#c");
svg.append("rect").attr("width",1156).attr("height",655).attr("fill","#fff");
const x=d3.scaleLinear().domain([0,8]).range([87,1148]);
const y=d3.scaleLinear().domain([0,220]).range([524,20]);

// gridlines
svg.append("g").selectAll("line").data(yTicks.filter(d=>d>0)).join("line")
  .attr("x1",x(0)).attr("x2",x(8)).attr("y1",d=>y(d)).attr("y2",d=>y(d))
  .attr("stroke","#c8c8c8").attr("stroke-width",1.2);
// right border
svg.append("line").attr("x1",x(8)).attr("x2",x(8)).attr("y1",y(220)).attr("y2",y(0))
  .attr("stroke","#c0c0c0").attr("stroke-width",1.5);

// series
const line=d3.line().defined(d=>d[1]!==null).x(d=>x(d[0])).y(d=>y(d[1]));
const gS=svg.append("g");
seriesData.forEach((s,i)=>{
  gS.append("path").attr("d",line(s)).attr("fill","none")
    .attr("stroke",seriesColors[i]).attr("stroke-width",1.1).attr("stroke-linejoin","round");
});

// axes
const ax=svg.append("g").attr("transform",`translate(0,${y(0)})`)
  .call(d3.axisBottom(x).tickValues(xTicks).tickSize(5).tickFormat((d,i)=>xLabels[i]));
ax.select(".domain").attr("stroke","#b0b0b0").attr("stroke-width",1.5);
ax.selectAll(".tick line").attr("stroke","#b0b0b0").attr("stroke-width",1.2);
ax.selectAll(".tick text").attr("font-size",18).attr("dy","1.35em").attr("font-family","Liberation Sans, Arial, sans-serif");
const ay=svg.append("g").attr("transform",`translate(${x(0)},0)`)
  .call(d3.axisLeft(y).tickValues(yTicks).tickSize(5).tickFormat(d=>d));
ay.select(".domain").attr("stroke","#b0b0b0").attr("stroke-width",1.5);
ay.selectAll(".tick line").attr("stroke","#b0b0b0").attr("stroke-width",1.2);
ay.selectAll(".tick text").attr("font-size",18).attr("x",-10).attr("font-family","Liberation Sans, Arial, sans-serif");

// titles
svg.append("text").attr("x",616).attr("y",596).attr("text-anchor","middle")
  .attr("font-size",17).attr("font-weight","bold").attr("textLength",283).attr("lengthAdjust","spacingAndGlyphs").text(xTitle);
svg.append("text").attr("transform","translate(25,264) rotate(-90)").attr("text-anchor","middle")
  .attr("font-size",17).attr("font-weight","bold").attr("textLength",330).attr("lengthAdjust","spacingAndGlyphs").text(yTitle);

// legend
const legX=[[53,88,91,234],[334,378,382,201],[590,633,639,215],[862,906,910,193]];
const lg=svg.append("g");
seriesNames.forEach((n,i)=>{
  const p=legX[i];
  lg.append("line").attr("x1",p[0]).attr("x2",p[1]).attr("y1",646).attr("y2",646)
    .attr("stroke",seriesColors[i]).attr("stroke-width",1.3);
  lg.append("text").attr("x",p[2]).attr("y",652).attr("font-size",17)
    .attr("textLength",p[3]).attr("lengthAdjust","spacingAndGlyphs").text(n);
});
</script></body></html>
